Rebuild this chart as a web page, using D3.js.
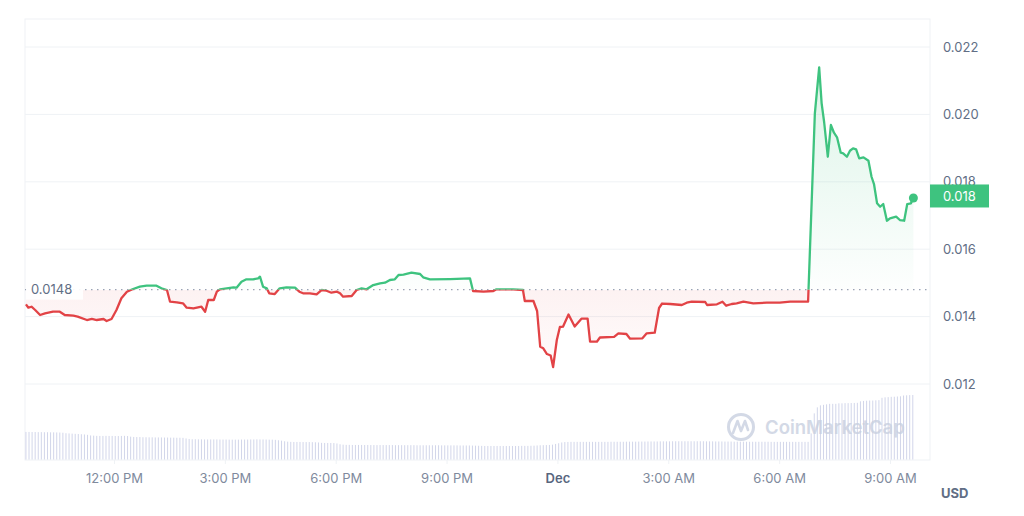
<!DOCTYPE html>
<html>
<head>
<meta charset="utf-8">
<script src="https://cdn.jsdelivr.net/npm/d3@7"></script>
<style>
  body { margin: 0; background: #fff; }
  svg { display: block; font-family: Inter, "Noto Sans", sans-serif; }
</style>
</head>
<body>
<div id="chart"></div>
<script>
// price points (Nov 30 -> Dec 1)
const times = [
  "11-30 09:37","11-30 09:41","11-30 09:46","11-30 09:52","11-30 10:00","11-30 10:08","11-30 10:21","11-30 10:32",
  "11-30 10:40","11-30 10:54","11-30 11:01","11-30 11:16","11-30 11:24","11-30 11:32","11-30 11:43","11-30 11:48",
  "11-30 11:56","11-30 12:04","11-30 12:12","11-30 12:21","11-30 12:31","11-30 12:42","11-30 12:53","11-30 13:09",
  "11-30 13:17","11-30 13:26","11-30 13:31","11-30 13:42","11-30 13:52","11-30 13:58","11-30 14:09","11-30 14:22",
  "11-30 14:28","11-30 14:33","11-30 14:42","11-30 14:47","11-30 14:52","11-30 15:03","11-30 15:14","11-30 15:19",
  "11-30 15:27","11-30 15:35","11-30 15:46","11-30 15:54","11-30 15:57","11-30 16:02","11-30 16:08","11-30 16:12",
  "11-30 16:21","11-30 16:29","11-30 16:40","11-30 16:54","11-30 17:01","11-30 17:07","11-30 17:18","11-30 17:29",
  "11-30 17:37","11-30 17:45","11-30 17:53","11-30 18:02","11-30 18:07","11-30 18:12","11-30 18:26","11-30 18:34",
  "11-30 18:42","11-30 18:50","11-30 19:01","11-30 19:12","11-30 19:20","11-30 19:28","11-30 19:36","11-30 19:42",
  "11-30 19:50","11-30 20:03","11-30 20:17","11-30 20:22","11-30 20:33","11-30 21:06","11-30 21:38","11-30 21:43",
  "11-30 22:00","11-30 22:16","11-30 22:21","11-30 22:48","11-30 23:04","11-30 23:07","11-30 23:21","11-30 23:27",
  "11-30 23:32","11-30 23:37","11-30 23:43","11-30 23:49","11-30 23:53","11-30 23:59","12-01 00:04","12-01 00:09",
  "12-01 00:18","12-01 00:28","12-01 00:39","12-01 00:49","12-01 00:53","12-01 01:04","12-01 01:09","12-01 01:32",
  "12-01 01:39","12-01 01:52","12-01 01:58","12-01 02:18","12-01 02:25","12-01 02:38","12-01 02:45","12-01 02:50",
  "12-01 03:03","12-01 03:22","12-01 03:30","12-01 03:38","12-01 04:00","12-01 04:03","12-01 04:19","12-01 04:28",
  "12-01 04:34","12-01 04:43","12-01 04:51","12-01 05:02","12-01 05:18","12-01 05:40","12-01 06:01","12-01 06:18",
  "12-01 06:47","12-01 06:58","12-01 07:05","12-01 07:09","12-01 07:13","12-01 07:19","12-01 07:24","12-01 07:29",
  "12-01 07:34","12-01 07:40","12-01 07:44","12-01 07:50","12-01 07:55","12-01 08:00","12-01 08:05","12-01 08:10",
  "12-01 08:17","12-01 08:25","12-01 08:30","12-01 08:34","12-01 08:39","12-01 08:44","12-01 08:49","12-01 08:55",
  "12-01 09:00","12-01 09:10","12-01 09:16","12-01 09:23","12-01 09:28","12-01 09:34","12-01 09:38"
];
const prices = [
  0.014365,0.014264,0.014293,0.014196,0.014047,0.014098,0.014145,0.014145,
  0.014047,0.014026,0.013997,0.013899,0.013929,0.013899,0.013929,0.013869,
  0.013929,0.014196,0.014543,0.014739,0.014819,0.014887,0.014917,0.014917,
  0.014839,0.014789,0.014442,0.014424,0.014394,0.014264,0.014246,0.014293,
  0.014145,0.014492,0.014492,0.014739,0.014810,0.014839,0.014869,0.014857,
  0.015035,0.015106,0.015106,0.015136,0.015184,0.014887,0.014839,0.014691,
  0.014670,0.014839,0.014869,0.014857,0.014739,0.014691,0.014691,0.014661,
  0.014789,0.014768,0.014709,0.014739,0.014691,0.014590,0.014611,0.014789,
  0.014839,0.014810,0.014937,0.014988,0.015006,0.015086,0.015106,0.015234,
  0.015243,0.015302,0.015264,0.015166,0.015106,0.015115,0.015136,0.014759,
  0.014739,0.014759,0.014810,0.014810,0.014789,0.014463,0.014463,0.014166,
  0.013107,0.013059,0.012890,0.012846,0.012504,0.013305,0.013691,0.013700,
  0.014062,0.013706,0.013937,0.013937,0.013255,0.013255,0.013380,0.013400,
  0.013504,0.013484,0.013344,0.013356,0.013504,0.013522,0.014255,0.014388,
  0.014374,0.014344,0.014412,0.014442,0.014433,0.014344,0.014365,0.014442,
  0.014323,0.014374,0.014394,0.014442,0.014394,0.014412,0.014412,0.014442,
  0.014442,0.020032,0.021396,0.020328,0.019782,0.018744,0.019685,0.019456,
  0.019320,0.018863,0.018845,0.018744,0.018922,0.018993,0.018963,0.018697,
  0.018726,0.018625,0.018150,0.017934,0.017361,0.017260,0.017341,0.016845,
  0.016916,0.016964,0.016866,0.016845,0.017341,0.017361,0.017520
];

// volume bars, one per 5 minutes from 09:37 (millions USD)
const volumeStart = "11-30 09:37";
const volumeStepMin = 5;
const volumes = [
  2.75,2.75,2.74,2.74,2.73,2.73,2.72,2.72,2.71,2.71,2.70,2.69,2.67,2.62,2.60,2.58,2.56,2.54,2.52,2.50,2.46,2.40,2.38,2.36,
  2.35,2.35,2.36,2.35,2.35,2.34,2.34,2.35,2.36,2.34,2.28,2.25,2.24,2.24,2.22,2.22,2.21,2.21,2.20,2.20,2.20,2.19,2.19,2.18,
  2.18,2.17,2.17,2.16,2.10,2.05,2.02,2.02,2.01,2.01,2.00,2.00,2.00,2.00,2.00,1.99,1.99,1.99,1.98,1.98,1.98,1.98,1.99,1.99,
  1.99,2.00,2.00,2.01,2.00,2.00,1.99,1.98,1.98,1.96,1.92,1.88,1.82,1.78,1.76,1.75,1.75,1.75,1.74,1.74,1.74,1.73,1.72,1.70,
  1.66,1.65,1.65,1.65,1.64,1.60,1.52,1.48,1.46,1.46,1.45,1.45,1.45,1.45,1.45,1.45,1.44,1.44,1.44,1.44,1.44,1.44,1.44,1.44,
  1.43,1.43,1.43,1.43,1.43,1.43,1.43,1.42,1.42,1.42,1.42,1.42,1.42,1.42,1.42,1.41,1.41,1.41,1.41,1.41,1.41,1.40,1.40,1.40,
  1.40,1.39,1.38,1.37,1.36,1.35,1.35,1.35,1.35,1.35,1.35,1.35,1.35,1.35,1.35,1.35,1.35,1.36,1.36,1.36,1.37,1.38,1.40,1.42,
  1.43,1.44,1.45,1.48,1.55,1.62,1.70,1.74,1.75,1.76,1.76,1.76,1.76,1.76,1.76,1.76,1.76,1.76,1.76,1.76,1.76,1.76,1.77,1.77,
  1.77,1.77,1.77,1.78,1.78,1.78,1.78,1.79,1.79,1.79,1.80,1.80,1.80,1.80,1.81,1.81,1.81,1.81,1.82,1.82,1.82,1.82,1.82,1.82,
  1.82,1.82,1.82,1.82,1.82,1.81,1.81,1.81,1.80,1.80,1.80,1.79,1.79,1.79,1.78,1.78,1.78,1.78,1.77,1.77,1.77,1.77,1.77,1.77,
  1.77,1.77,1.76,1.76,1.76,1.76,1.76,1.76,1.76,1.76,1.76,1.76,1.76,1.76,1.76,2.60,4.60,5.20,5.40,5.45,5.50,5.55,5.55,5.55,
  5.60,5.60,5.62,5.62,5.63,5.64,5.65,5.80,5.84,5.86,5.88,5.88,5.90,5.92,6.15,6.20,6.22,6.25,6.26,6.28,6.30,6.38,6.40,6.42,
  6.43
];

const basePrice = 0.0148;
const yTicks = [0.012, 0.014, 0.016, 0.018, 0.020, 0.022];
const xTicks = ["11-30 12:00","11-30 15:00","11-30 18:00","11-30 21:00","12-01 00:00","12-01 03:00","12-01 06:00","12-01 09:00"];

const green = "#3ec37f", red = "#e24346";
const width = 1024, height = 516;
const plot = { left: 25, right: 930, top: 19, bottom: 460 };

const parse = s => d3.timeParse("%Y-%m-%d %H:%M")("2023-" + s);
const data = times.map((t, i) => ({ t: parse(t), p: prices[i] }));
const vStart = parse(volumeStart);
const vol = volumes.map((v, i) => ({ t: d3.timeMinute.offset(vStart, i * volumeStepMin), v: v }));

const svg = d3.select("#chart").append("svg")
  .attr("width", width).attr("height", height);

// scales
const x = d3.scaleTime()
  .domain([parse("11-30 12:00"), parse("12-01 09:00")])
  .range([114, 890]);
const y = d3.scaleLinear().domain([0.012, 0.022]).range([384, 47]);
const yv = d3.scaleLinear().domain([0, d3.max(volumes)]).range([459.5, 395]);

const yBase = y(basePrice);

// frame + grid
svg.append("rect")
  .attr("x", plot.left).attr("y", plot.top)
  .attr("width", plot.right - plot.left).attr("height", plot.bottom - plot.top)
  .attr("fill", "none").attr("stroke", "#eff2f5");

svg.append("g").selectAll("line").data(yTicks).enter().append("line")
  .attr("x1", plot.left).attr("x2", plot.right)
  .attr("y1", d => y(d)).attr("y2", d => y(d))
  .attr("stroke", "#eff2f5");

// volume bars
svg.append("g").selectAll("rect").data(vol).enter().append("rect")
  .attr("x", d => x(d.t) - 0.5)
  .attr("y", d => yv(d.v))
  .attr("width", 1)
  .attr("height", d => yv(0) - yv(d.v))
  .attr("fill", "#d2d6ea");

// watermark
const wm = svg.append("g").attr("opacity", 0.8);
wm.append("circle").attr("cx", 741).attr("cy", 427).attr("r", 12.5)
  .attr("fill", "none").attr("stroke", "#c9d0e0").attr("stroke-width", 3);
wm.append("path")
  .attr("d", "M733,433 L737.5,421 L741,431 L745,421 L748,430")
  .attr("fill", "none").attr("stroke", "#c9d0e0").attr("stroke-width", 2.6)
  .attr("stroke-linejoin", "round").attr("stroke-linecap", "round");
wm.append("text").attr("x", 765).attr("y", 434)
  .attr("font-size", 18.5).attr("font-weight", 600).attr("fill", "#c9d0e0")
  .text("CoinMarketCap");

// gradients + clips
const defs = svg.append("defs");
const gUp = defs.append("linearGradient").attr("id", "gUp")
  .attr("gradientUnits", "userSpaceOnUse")
  .attr("x1", 0).attr("x2", 0).attr("y1", y(d3.max(prices))).attr("y2", yBase);
gUp.append("stop").attr("offset", 0).attr("stop-color", green).attr("stop-opacity", 0.18);
gUp.append("stop").attr("offset", 1).attr("stop-color", green).attr("stop-opacity", 0.01);
const gDn = defs.append("linearGradient").attr("id", "gDn")
  .attr("gradientUnits", "userSpaceOnUse")
  .attr("x1", 0).attr("x2", 0).attr("y1", yBase).attr("y2", y(d3.min(prices)));
gDn.append("stop").attr("offset", 0).attr("stop-color", red).attr("stop-opacity", 0.07);
gDn.append("stop").attr("offset", 1).attr("stop-color", red).attr("stop-opacity", 0.02);

defs.append("clipPath").attr("id", "above").append("rect")
  .attr("x", plot.left).attr("y", plot.top)
  .attr("width", plot.right - plot.left).attr("height", yBase - plot.top);
defs.append("clipPath").attr("id", "below").append("rect")
  .attr("x", plot.left).attr("y", yBase)
  .attr("width", plot.right - plot.left).attr("height", plot.bottom - yBase);

const area = d3.area().x(d => x(d.t)).y0(yBase).y1(d => y(d.p));
const line = d3.line().x(d => x(d.t)).y(d => y(d.p));

svg.append("path").datum(data).attr("d", area)
  .attr("fill", "url(#gUp)").attr("clip-path", "url(#above)");
svg.append("path").datum(data).attr("d", area)
  .attr("fill", "url(#gDn)").attr("clip-path", "url(#below)");

// baseline (opening price)
svg.append("line")
  .attr("x1", plot.left).attr("x2", plot.right)
  .attr("y1", yBase).attr("y2", yBase)
  .attr("stroke", "#9aa3b5").attr("stroke-width", 1.2)
  .attr("stroke-dasharray", "1.5 4.5");

svg.append("path").datum(data).attr("d", line)
  .attr("fill", "none").attr("stroke", green).attr("stroke-width", 2.3)
  .attr("stroke-linejoin", "round").attr("clip-path", "url(#above)");
svg.append("path").datum(data).attr("d", line)
  .attr("fill", "none").attr("stroke", red).attr("stroke-width", 2.3)
  .attr("stroke-linejoin", "round").attr("clip-path", "url(#below)");

// baseline label
svg.append("rect").attr("x", plot.left + 1).attr("y", yBase - 9)
  .attr("width", 57).attr("height", 19).attr("fill", "#fff").attr("opacity", 0.92);
svg.append("text").attr("x", 31).attr("y", yBase).attr("dy", "0.35em")
  .attr("font-size", 13).attr("fill", "#616e85").text(d3.format(".4f")(basePrice));

// end dot
const last = data[data.length - 1];
svg.append("circle").attr("cx", x(last.t)).attr("cy", y(last.p)).attr("r", 4.5)
  .attr("fill", last.p >= basePrice ? green : red);

// y axis (right)
const yAxis = svg.append("g").attr("transform", `translate(${plot.right},0)`)
  .call(d3.axisRight(y).tickValues(yTicks).tickSize(0).tickPadding(13).tickFormat(d3.format(".3f")));
yAxis.select(".domain").remove();
yAxis.selectAll("text").attr("font-family", "Inter").attr("font-size", 13).attr("fill", "#616e85");

// current price tag
const tagY = y(last.p) - 2;
svg.append("rect").attr("x", plot.right).attr("y", tagY - 11.5)
  .attr("width", 59).attr("height", 23).attr("fill", last.p >= basePrice ? green : red);
svg.append("text").attr("x", 943).attr("y", tagY).attr("dy", "0.35em")
  .attr("font-size", 13).attr("fill", "#fff").text(last.p.toFixed(3));

// x axis
const fmt = d3.timeFormat("%-I:%M %p");
const xAxis = svg.append("g").attr("transform", `translate(0,${plot.bottom})`)
  .call(d3.axisBottom(x).tickValues(xTicks.map(parse)).tickSize(4).tickPadding(10)
    .tickFormat(d => (d.getHours() === 0 ? d3.timeFormat("%b")(d) : fmt(d))));
xAxis.select(".domain").remove();
xAxis.selectAll("line").attr("stroke", "#eff2f5");
xAxis.selectAll("text").attr("font-family", "Inter").attr("font-size", 13)
  .attr("fill", d => (d.getHours() === 0 ? "#58667e" : "#808a9d"))
  .attr("font-weight", d => (d.getHours() === 0 ? 600 : 400));

svg.append("text").attr("x", 941).attr("y", 498)
  .attr("font-size", 13).attr("font-weight", 700).attr("fill", "#616e85").text("USD");
</script>
</body>
</html>
